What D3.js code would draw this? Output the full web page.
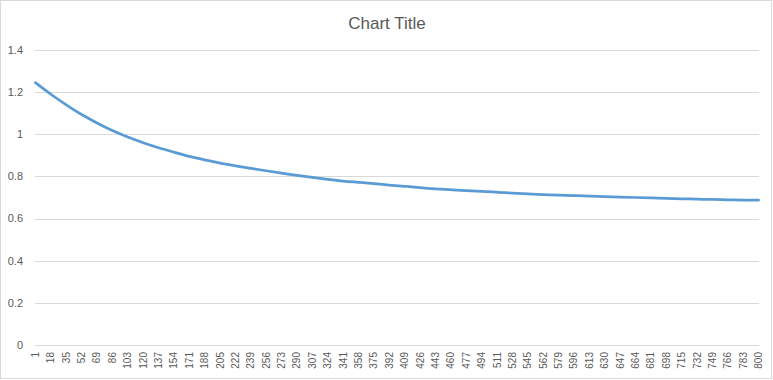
<!DOCTYPE html>
<html>
<head>
<meta charset="utf-8">
<script src="https://cdn.jsdelivr.net/npm/d3@7"></script>
<style>
  body { margin: 0; background: #fff; }
  svg text { font-family: "Liberation Sans", Arial, sans-serif; fill: #595959; }
</style>
</head>
<body>
<div id="chart"></div>
<script>
// categories run 1..800, labels shown every 17th
const categoryCount = 800;
const tickCats = [1, 18, 35, 52, 69, 86, 103, 120, 137, 154, 171, 188, 205, 222, 239, 256,
  273, 290, 307, 324, 341, 358, 375, 392, 409, 426, 443, 460, 477, 494, 511, 528,
  545, 562, 579, 596, 613, 630, 647, 664, 681, 698, 715, 732, 749, 766, 783, 800];
// series values at each labelled category
const seriesValues = [1.245, 1.190, 1.140, 1.094, 1.054, 1.018, 0.987, 0.960, 0.936, 0.915,
  0.895, 0.879, 0.863, 0.850, 0.838, 0.827, 0.816, 0.805, 0.795, 0.786, 0.778, 0.772,
  0.766, 0.759, 0.753, 0.747, 0.741, 0.737, 0.733, 0.729, 0.725, 0.721, 0.717, 0.714,
  0.711, 0.709, 0.707, 0.704, 0.702, 0.700, 0.698, 0.696, 0.694, 0.692, 0.691, 0.689,
  0.688, 0.687];
const yTicks = [0, 0.2, 0.4, 0.6, 0.8, 1, 1.2, 1.4];

const width = 773, height = 380;
const plot = { left: 35, right: 759, top: 50, bottom: 345 };

const svg = d3.select("#chart").append("svg")
  .attr("width", width)
  .attr("height", height);

// chart border
svg.append("rect")
  .attr("x", 0.5).attr("y", 0.5)
  .attr("width", 771).attr("height", 378)
  .attr("fill", "#fff")
  .attr("stroke", "#d9d9d9");

svg.append("text")
  .attr("x", 387).attr("y", 29)
  .attr("text-anchor", "middle")
  .attr("font-size", 17)
  .text("Chart Title");

const x = d3.scaleBand()
  .domain(d3.range(1, categoryCount + 1))
  .range([plot.left, plot.right])
  .padding(0);
const xc = c => x(c) + x.bandwidth() / 2;

const y = d3.scaleLinear()
  .domain([0, 1.4])
  .range([plot.bottom, plot.top]);

// gridlines + y labels
const yAxis = svg.append("g");
yAxis.selectAll("line")
  .data(yTicks)
  .enter().append("line")
  .attr("x1", plot.left).attr("x2", plot.right)
  .attr("y1", d => Math.round(y(d)) + 0.5)
  .attr("y2", d => Math.round(y(d)) + 0.5)
  .attr("stroke", "#d9d9d9")
  .attr("stroke-width", 1);

yAxis.selectAll("text")
  .data(yTicks)
  .enter().append("text")
  .attr("x", 23)
  .attr("y", d => y(d))
  .attr("dy", "0.35em")
  .attr("text-anchor", "end")
  .attr("font-size", 11)
  .text(d => d3.format("")(d));

// x labels, rotated
svg.append("g").selectAll("text")
  .data(tickCats)
  .enter().append("text")
  .attr("transform", d => "translate(" + xc(d) + "," + 352 + ")rotate(-90)")
  .attr("dy", "0.35em")
  .attr("text-anchor", "end")
  .attr("font-size", 10)
  .text(d => d);

const line = d3.line()
  .x((d, i) => xc(tickCats[i]))
  .y(d => y(d))
  .curve(d3.curveMonotoneX);

svg.append("path")
  .datum(seriesValues)
  .attr("d", line)
  .attr("fill", "none")
  .attr("stroke", "#5b9bd5")
  .attr("stroke-width", 2.75)
  .attr("stroke-linecap", "round");
</script>
</body>
</html>
